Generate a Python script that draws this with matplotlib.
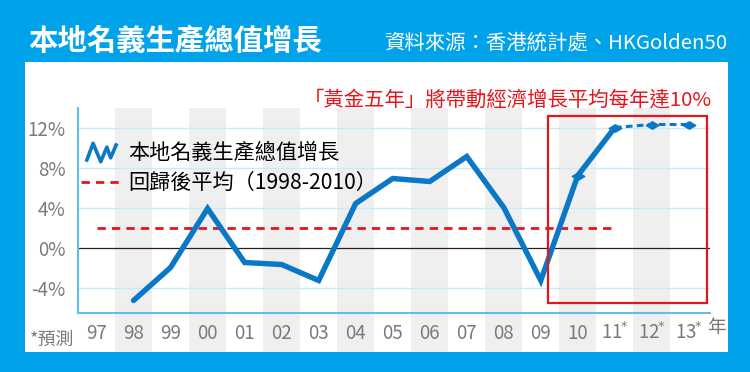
import numpy as np, matplotlib
matplotlib.use("Agg")
import matplotlib.pyplot as plt
from matplotlib.patches import Rectangle
from matplotlib.lines import Line2D
from matplotlib.path import Path

plt.rcParams["font.family"] = ["Noto Sans CJK TC", "DejaVu Sans"]
C = {"bg": "#00a3e9", "line": "#0a78c6", "red": "#e8141c", "band": "#efefef",
     "grid": "#c9eaf8", "spine": "#5cc0ec", "gray": "#7a7a7a"}

# data
years = ["97", "98", "99", "00", "01", "02", "03", "04", "05", "06", "07", "08",
         "09", "10", "11", "12", "13"]
is_forecast = [False] * 14 + [True] * 3
gdp_growth = [np.nan, -5.3, -2.0, 3.9, -1.5, -1.7, -3.3, 4.4, 6.9, 6.6, 9.1, 4.0,
              -3.3, 7.2, 12.0, 12.3, 12.3]
marked_years = ["10", "11", "12", "13"]
avg_growth = 2.0
avg_span = ("97", "11")
golden_years = ("10", "13")
yticks = [-4, 0, 4, 8, 12]
ytick_labels = ["-4%", "0%", "4%", "8%", "12%"]

W, H = 750, 372
fig = plt.figure(figsize=(W / 100, H / 100), dpi=100, facecolor=C["bg"])
# white panel
fig.add_artist(Rectangle((25 / W, 1 - 352 / H), (728 - 25) / W, (352 - 62) / H,
                         transform=fig.transFigure, fc="white", ec="none", zorder=0))
ax = fig.add_axes([78 / W, 1 - 313 / H, (710 - 78) / W, (313 - 108) / H])
ax.set_facecolor("none")
x = np.arange(len(years))
ax.set_xlim(-0.5, 16.57); ax.set_ylim(-6.55, 13.95)

# alternating bands, running down through the tick label area
yb = -(352 - 313) / (313 - 108)
for i in x[1::2]:
    ax.add_patch(Rectangle((i - 0.5, yb), 1, 1 - yb, transform=ax.get_xaxis_transform(),
                           fc=C["band"], ec="none", zorder=0, clip_on=False))
for v in yticks:
    if v == 0:
        ax.axhline(0, color="#222222", lw=0.9, zorder=1)
    else:
        ax.axhline(v, color=C["grid"], lw=1.0, zorder=1)

g = np.array(gdp_growth)
last_actual = len(is_forecast) - sum(is_forecast)
ax.plot(x[:last_actual + 1], g[:last_actual + 1], color=C["line"], lw=3.9,
        solid_capstyle="round", solid_joinstyle="miter", zorder=4)
ax.plot(x[last_actual:], g[last_actual:], color=C["line"], lw=2.2,
        ls=(0, (2.2, 1.4)), zorder=4)
diamond = Path([(-1, 0), (0, 0.6), (1, 0), (0, -0.6), (-1, 0)],
               [Path.MOVETO, Path.LINETO, Path.LINETO, Path.LINETO, Path.CLOSEPOLY])
mi = [years.index(y) for y in marked_years]
ax.plot(x[mi], g[mi], ls="none", marker=diamond, ms=9, color=C["line"], zorder=5)

a0, a1 = years.index(avg_span[0]), years.index(avg_span[1])
ax.plot([x[a0], x[a1]], [avg_growth, avg_growth], color=C["red"], lw=2.0,
        ls=(0, (3.0, 2.2)), zorder=3)

# golden five years box
r0, r1 = years.index(golden_years[0]) - 0.81, years.index(golden_years[1]) + 0.49
ax.add_patch(Rectangle((r0, -5.55), r1 - r0, 18.7, fill=False, ec=C["red"], lw=1.6,
                       zorder=6, clip_on=False))

for s in ["top", "right"]:
    ax.spines[s].set_visible(False)
for s in ["left", "bottom"]:
    ax.spines[s].set_color(C["spine"]); ax.spines[s].set_linewidth(1.5)
ax.set_yticks(yticks, ytick_labels)
xlabels = [y + (r"$^{\!\!*}$" if f else "") for y, f in zip(years, is_forecast)]
ax.set_xticks(x, xlabels)
ax.tick_params(axis="y", length=0, pad=9, labelsize=13.5, labelcolor=C["gray"])
ax.tick_params(axis="x", length=0, pad=7, labelsize=13.5, labelcolor=C["gray"])

# legend
zig = Path([(-1, -0.6), (-0.55, 0.6), (-0.05, -0.6), (0.35, 0.35), (0.6, -0.35), (1, 0.6)])
h1 = Line2D([], [], ls="none", marker=zig, ms=22, mfc="none", mec=C["line"], mew=2.6)
h2 = Line2D([], [], color=C["red"], lw=2.0, ls=(0, (3.0, 2.2)))
ax.legend([h1, h2], ["本地名義生產總值增長", "回歸後平均（1998-2010）"],
          loc="upper left", bbox_to_anchor=(-0.008, 0.875), frameon=False, fontsize=15.2,
          handlelength=1.9, handletextpad=0.3, labelspacing=0.38, borderaxespad=0)

fig.text(28 / W, 1 - 41 / H, "本地名義生產總值增長", fontsize=21.2, fontweight="bold",
         color="white", va="center", ha="left")
fig.text(727 / W, 1 - 43 / H, "資料來源：香港統計處、HKGolden50", fontsize=14.7,
         color="white", va="center", ha="right")
fig.text(712 / W, 1 - 100 / H, "「黃金五年」將帶動經濟增長平均每年達10%", fontsize=14.7,
         color=C["red"], va="center", ha="right")
fig.text(30 / W, 1 - 340 / H, "*預測", fontsize=13, color=C["gray"], va="center", ha="left")
fig.text(716 / W, 1 - 328 / H, "年", fontsize=13.5, color=C["gray"], va="center", ha="center")

fig.savefig("out.png", dpi=100, facecolor=C["bg"])
